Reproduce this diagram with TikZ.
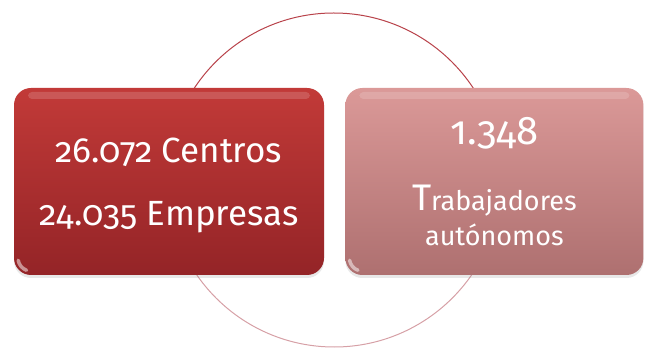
\documentclass[tikz,border=0pt]{standalone}
\usepackage{fontspec}
\setmainfont{Fira Sans}[Numbers=OldStyle]
\usepackage{tikz}
\usetikzlibrary{positioning,shadows}
\definecolor{rojotop}{RGB}{194,58,56}
\definecolor{rojobot}{RGB}{148,36,39}
\definecolor{rosatop}{RGB}{219,153,152}
\definecolor{rosabot}{RGB}{174,112,112}
\definecolor{anillo}{RGB}{184,66,74}
\definecolor{anillobajo}{RGB}{214,160,166}
\tikzset{
  databox/.style = {rounded corners=17pt, text=white, align=center, minimum height=187pt, inner sep=0pt,
    drop shadow={opacity=0.18, shadow xshift=0pt, shadow yshift=-3pt},
    path picture={\fill[white,opacity=0.16,rounded corners=4pt]
      ([xshift=14pt,yshift=-4pt]path picture bounding box.north west) rectangle
      ([xshift=-14pt,yshift=-11pt]path picture bounding box.north east);
      \draw[white,opacity=0.5,line width=3.5pt,line cap=round]
      ([xshift=4.2pt,yshift=14.7pt]path picture bounding box.south west)
      arc[start angle=190, end angle=250, radius=13pt];}},
  empresas/.style = {databox, top color=rojotop, bottom color=rojobot, minimum width=310pt},
  autonomos/.style = {databox, top color=rosatop, bottom color=rosabot, minimum width=298pt},
  ringtop/.style = {anillo, line width=1pt},
  ringbot/.style = {anillobajo, line width=1pt},
}
\newcommand{\cifra}{\fontsize{35}{42}\selectfont}
\newcommand{\rotulo}{\fontsize{27}{32}\selectfont}

\begin{document}
\begin{tikzpicture}[x=1pt,y=1pt]
    \useasboundingbox (0,0) rectangle (645,348);
    \node[circle, minimum size=334pt, inner sep=0pt] (ciclo) at (334,168) {};
    \draw[ringtop] (ciclo.west) arc[start angle=180, end angle=0, radius=167];
    \draw[ringbot] (ciclo.east) arc[start angle=0, end angle=-180, radius=167];

    \node[empresas, font=\cifra] (centros) at (169,166.5)
      {\rule{0pt}{32pt}26.072 Centros\\[21pt]24.035 Empresas};
    \node[autonomos, font=\rotulo, right=21pt of centros] (trabajadores)
      {\rule{0pt}{28pt}{\fontsize{40}{40}\selectfont 1.348}\\[34pt]{\fontsize{37}{37}\selectfont T}rabajadores\\[3pt]autónomos};
\end{tikzpicture}
\end{document}
